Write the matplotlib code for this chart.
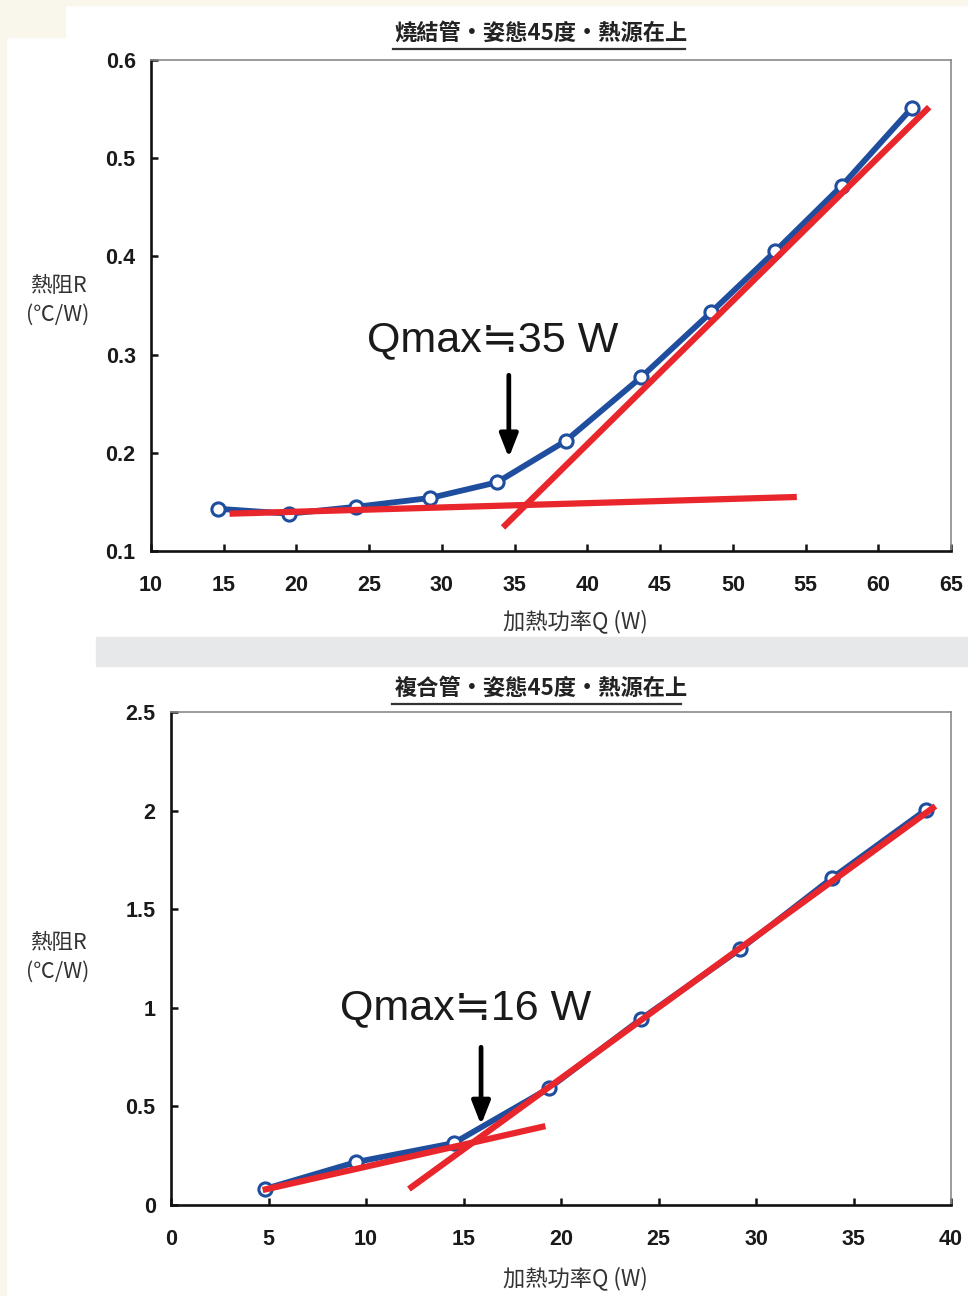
import numpy as np
import matplotlib
matplotlib.use('Agg')
import matplotlib.pyplot as plt
from matplotlib.patches import Rectangle
from matplotlib.lines import Line2D

plt.rcParams['font.family'] = ['Liberation Sans', 'Noto Sans CJK TC', 'DejaVu Sans']

# ── Datos ─────────────────────────────────────────────────────────────────────
# Panel superior: 燒結管
q_top = [14.6, 19.5, 24.1, 29.2, 33.8, 38.5, 43.7, 48.5, 52.9, 57.5, 62.3]
r_top = [0.143, 0.138, 0.145, 0.154, 0.170, 0.212, 0.277, 0.343, 0.405, 0.472, 0.551]
fit1_top_q = [15.4, 54.4]
fit1_top_r = [0.138, 0.155]
fit2_top_q = [34.2, 63.5]
fit2_top_r = [0.124, 0.552]

# Panel inferior: 複合管
q_bot = [4.8, 9.5, 14.5, 19.4, 24.1, 29.2, 33.9, 38.7]
r_bot = [0.081, 0.218, 0.314, 0.593, 0.943, 1.298, 1.658, 2.003]
fit1_bot_q = [4.7, 19.2]
fit1_bot_r = [0.076, 0.40]
fit2_bot_q = [12.2, 39.2]
fit2_bot_r = [0.081, 2.023]

titles = ['燒結管・姿態45度・熱源在上', '複合管・姿態45度・熱源在上']
qmax_labels = ['Qmax≒35 W', 'Qmax≒16 W']
ylabel = '熱阻R\n(℃/W)'
xlabel = '加熱功率Q (W)'

BLUE = '#1f4e9e'
RED = '#e8262b'
CREAM = '#f9f6ec'
CJK = ['Noto Sans CJK TC', 'DejaVu Sans']

W, H = 968, 1296
fig = plt.figure(figsize=(W / 100, H / 100), dpi=100, facecolor='white')


def fx(px):
    return px / W


def fy(py):
    return 1 - py / H


# ── Fondo ─────────────────────────────────────────────────────────────────────
for (x0, y0, x1, y1, c) in [(0, 0, 6, H, CREAM), (0, 0, W, 5, CREAM),
                            (0, 0, 65, 37, CREAM), (96, 637, W, 666, '#e7e8ea')]:
    fig.patches.append(Rectangle((fx(x0), fy(y1)), fx(x1) - fx(x0), fy(y0) - fy(y1),
                                 transform=fig.transFigure, color=c, zorder=0))


def style_axes(ax, xlim, ylim, xticks, yticks, yfmt):
    ax.set_xlim(*xlim)
    ax.set_ylim(*ylim)
    ax.set_xticks(xticks)
    ax.set_yticks(yticks)
    ax.set_xticklabels([str(t) for t in xticks])
    ax.set_yticklabels([yfmt(t) for t in yticks])
    for s in ['left', 'bottom']:
        ax.spines[s].set_linewidth(1.9)
        ax.spines[s].set_color('#111111')
    for s in ['top', 'right']:
        ax.spines[s].set_linewidth(1.2)
        ax.spines[s].set_color('#8a8a8a')
    ax.tick_params(direction='in', length=5, width=1.8, color='#111111',
                   labelsize=15.5, labelcolor='#1a1a1a')
    ax.tick_params(axis='x', pad=17)
    ax.tick_params(axis='y', pad=11)
    for lab in ax.get_xticklabels() + ax.get_yticklabels():
        lab.set_fontweight('bold')


panels = [
    dict(rect=[fx(151), fy(551), fx(951) - fx(151), fy(60) - fy(551)],
         q=q_top, r=r_top, f1=(fit1_top_q, fit1_top_r), f2=(fit2_top_q, fit2_top_r),
         xlim=(10, 65), ylim=(0.1, 0.6), xticks=list(range(10, 70, 5)),
         yticks=[0.1, 0.2, 0.3, 0.4, 0.5, 0.6], yfmt=lambda t: f'{t:.1f}',
         title_y=33, ul=(393, 685), lab_y=300, xlab_y=621,
         txt=(33.5, 0.315), arrow=(34.6, 0.279, 0.195)),
    dict(rect=[fx(171), fy(1205), fx(951) - fx(171), fy(712) - fy(1205)],
         q=q_bot, r=r_bot, f1=(fit1_bot_q, fit1_bot_r), f2=(fit2_bot_q, fit2_bot_r),
         xlim=(0, 40), ylim=(0, 2.5), xticks=list(range(0, 45, 5)),
         yticks=[0, 0.5, 1, 1.5, 2, 2.5], yfmt=lambda t: f'{t:g}',
         title_y=688, ul=(392, 681), lab_y=957, xlab_y=1278,
         txt=(15.1, 1.0), arrow=(15.9, 0.80, 0.406)),
]

for i, p in enumerate(panels):
    ax = fig.add_axes(p['rect'])
    ax.set_facecolor('white')
    ax.plot(p['q'], p['r'], '-', color=BLUE, lw=4.2, zorder=3)
    ax.plot(p['q'], p['r'], 'o', ms=9.5, mfc='white', mec=BLUE, mew=2.2, zorder=4)
    ax.plot(*p['f1'], '-', color=RED, lw=4.5, solid_capstyle='butt', zorder=5)
    ax.plot(*p['f2'], '-', color=RED, lw=4.5, solid_capstyle='butt', zorder=5)
    style_axes(ax, p['xlim'], p['ylim'], p['xticks'], p['yticks'], p['yfmt'])

    ax.text(*p['txt'], qmax_labels[i], ha='center', va='center', fontsize=31,
            color='#1a1a1a', zorder=6)
    ax.annotate('', xy=(p['arrow'][0], p['arrow'][2]), xytext=(p['arrow'][0], p['arrow'][1]),
                arrowprops=dict(arrowstyle='-|>,head_length=1.4,head_width=0.55',
                                lw=3.4, color='black', shrinkA=0, shrinkB=0), zorder=6)

    fig.text(fx(541), fy(p['title_y']), titles[i], ha='center', va='center',
             fontsize=16, fontweight='bold', color='#222222', family=CJK)
    fig.lines.append(Line2D([fx(p['ul'][0]), fx(p['ul'][1])],
                            [fy(p['title_y'] + 16)] * 2, transform=fig.transFigure,
                            color='#333333', lw=1.6))
    fig.text(fx(58), fy(p['lab_y']), ylabel, ha='center', va='center', fontsize=15.5,
             color='#333333', linespacing=1.4, family=CJK)
    fig.text(fx(575), fy(p['xlab_y']), xlabel, ha='center', va='center', fontsize=16,
             color='#333333', family=CJK)

plt.savefig('out.png', dpi=100, facecolor='white')
